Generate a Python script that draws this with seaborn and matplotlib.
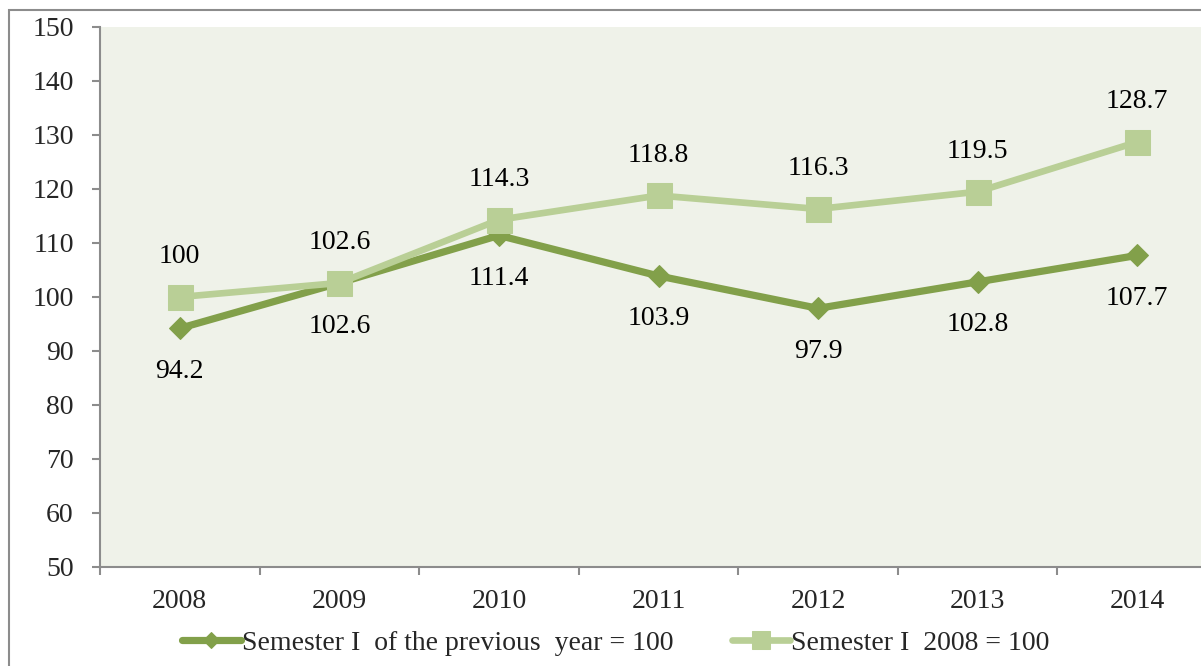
import matplotlib
matplotlib.use("Agg")
import matplotlib.pyplot as plt
import matplotlib.patches as mpatches
import seaborn as sns
import pandas as pd
import numpy as np

years = ["2008", "2009", "2010", "2011", "2012", "2013", "2014"]
prev_year = [94.2, 102.6, 111.4, 103.9, 97.9, 102.8, 107.7]
base_2008 = [100, 102.6, 114.3, 118.8, 116.3, 119.5, 128.7]
name_prev = "Semester I  of the previous  year = 100"
name_base = "Semester I  2008 = 100"

sns.set_style("white")
plt.rcParams['font.family'] = ['Liberation Serif', 'DejaVu Serif']

W, H = 1201, 666
fig = plt.figure(figsize=(W / 100, H / 100), dpi=100)
fig.patch.set_facecolor("white")

# outer chart border (cropped at right and bottom)
fig.patches.append(mpatches.Rectangle((9 / W, -0.2), 1.2, 1.2 - 10 / H,
                                      transform=fig.transFigure, fill=False,
                                      edgecolor="#8c8c8c", lw=1.5))

left, right, top, bottom = 100, 1217, 27, 567
ax = fig.add_axes([left / W, 1 - bottom / H, (right - left) / W, (bottom - top) / H])
ax.set_facecolor("#eff2e9")

df = pd.DataFrame({"x": np.arange(len(years)), "prev": prev_year, "base": base_2008})

dark = "#82a04a"
light = "#b9cf96"

sns.lineplot(data=df, x="x", y="prev", ax=ax, color=dark, lw=5.2, marker="D",
             markersize=11, markeredgecolor=dark, label=name_prev, zorder=3)
sns.lineplot(data=df, x="x", y="base", ax=ax, color=light, lw=4.8, marker="s",
             markersize=18, markeredgecolor=light, label=name_base, zorder=4)

fs = 20
for i, v in enumerate(prev_year):
    ax.annotate(f"{v:g}", (i, v), xytext=(0, -31), textcoords="offset points",
                ha="center", va="center", fontsize=fs, color="black")
for i, v in enumerate(base_2008):
    ax.annotate(f"{v:g}", (i, v), xytext=(0, 29), textcoords="offset points",
                ha="center", va="center", fontsize=fs, color="black")

ax.set_xlim(-0.5, 6.5)
ax.set_ylim(50, 150)
ax.set_yticks(np.arange(50, 151, 10))
ax.set_xticks(np.arange(len(years)))
ax.set_xticklabels(years)
ax.set_xticks(np.arange(-0.5, 7, 1), minor=True)
ax.set_xlabel("")
ax.set_ylabel("")

for s in ["top", "right"]:
    ax.spines[s].set_visible(False)
for s in ["left", "bottom"]:
    ax.spines[s].set_color("#8c8c8c")
    ax.spines[s].set_linewidth(1.5)

ax.tick_params(axis="y", which="major", length=6, width=1.5, color="#8c8c8c",
               direction="out", pad=13, labelsize=fs, left=True)
ax.tick_params(axis="x", which="major", length=0, pad=16, labelsize=fs)
ax.tick_params(axis="x", which="minor", length=6, width=1.5, color="#8c8c8c",
               direction="out", bottom=True)

ax.get_legend().remove()
handles, labels = ax.get_legend_handles_labels()
fig.legend(handles, labels, loc="center", bbox_to_anchor=(616 / W, 1 - 643 / H),
           ncol=2, frameon=False, fontsize=fs, handlelength=2.1, handletextpad=0.05,
           columnspacing=2.1, markerscale=0.7)

fig.savefig("out.png", dpi=100, facecolor="white")
